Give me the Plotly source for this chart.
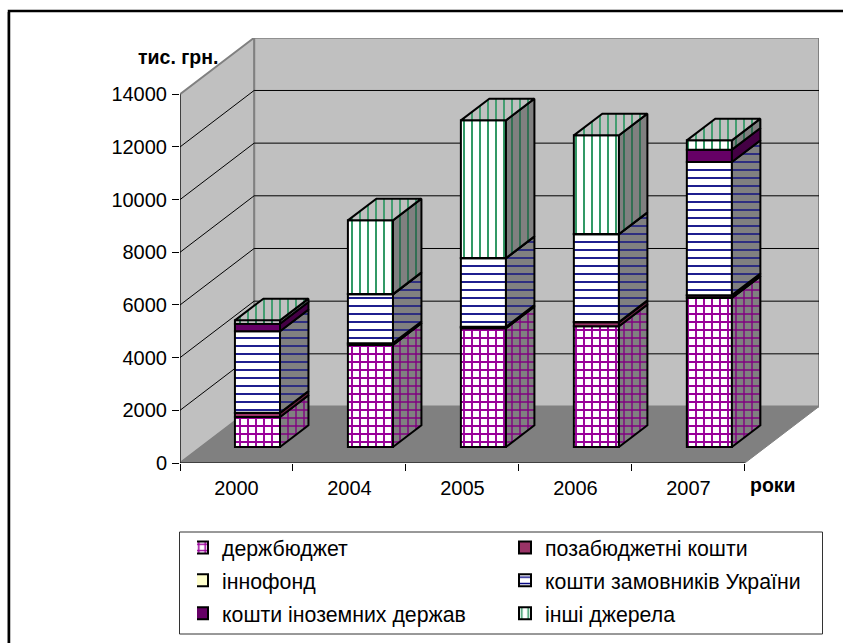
import plotly.graph_objects as go
import numpy as np

years = ["2000", "2004", "2005", "2006", "2007"]
derzh = [1139, 3873, 4507, 4583, 5657]
poza = [152, 60, 50, 151, 100]
inno = [10, 10, 10, 10, 10]
zamov = [3092, 1854, 2598, 3332, 5053]
inozem = [292, 10, 10, 10, 471]
inshi = [125, 2800, 5228, 3748, 353]
y_ticks = [0, 2000, 4000, 6000, 8000, 10000, 12000, 14000]
series_names = ["держбюджет", "позабюджетні кошти", "іннофонд",
                "кошти замовників України", "кошти іноземних держав", "інші джерела"]

W, H = 843, 643
L, R, T, B = 180, 819, 38, 463      # plot box in pixels
PX_X = 112.8                         # pixels per category
PX_Y = 368.7 / 14000                 # pixels per unit
DEPTH_X = 74 / PX_X                  # floor depth expressed in axis units
DEPTH_Y = 56.5 / PX_Y
D0, D1 = 0.283, 0.667                # front/back of the bars in depth fraction
BAR_W = 45 / PX_X


def proj(x, v, d):
    return x + d * DEPTH_X, v + d * DEPTH_Y


def poly(points):
    return " ".join(("M" if i == 0 else "L") + f"{x},{y}" for i, (x, y) in enumerate(points)) + " Z"


styles = [
    dict(bg="#ffffff", side="#808080", fg="#990099", side_fg="#800080", shape="+", size=8, sol=0.42, side_sol=0.32),
    dict(bg="#993366", side="#66223f", fg=None, shape="", size=8, sol=0.3),
    dict(bg="#ffffcc", side="#aaaa88", fg=None, shape="", size=8, sol=0.3),
    dict(bg="#ffffff", side="#808080", fg="#000080", side_fg="#000080", shape="-", size=8, sol=0.22, side_sol=0.16),
    dict(bg="#660066", side="#440044", fg=None, shape="", size=8, sol=0.3),
    dict(bg="#ffffff", side="#808080", fg="#339966", side_fg="#1f6b48", shape="|", size=8, sol=0.25, side_sol=0.2),
]
values = [derzh, poza, inno, zamov, inozem, inshi]
n = len(years)
xc = np.arange(n) + 0.5
xfront = xc + D0 * DEPTH_X
cum = np.zeros(n)

fig = go.Figure()
side_traces = []
for name, vals, st in zip(series_names, values, styles):
    vals = np.array(vals, float)
    marker = dict(color=st["bg"], line=dict(color="#000000", width=2))
    if st["shape"]:
        marker["pattern"] = dict(shape=st["shape"], size=st["size"], solidity=st["sol"], fgcolor=st["fg"],
                                 bgcolor=st["bg"], fillmode="replace")
    fig.add_bar(x=xfront, y=vals, base=cum + D0 * DEPTH_Y, width=BAR_W,
                name=f'<span style="font-size:21.3px">{name}</span>', marker=marker, hoverinfo="skip")
    sx, sy = [], []
    for i in range(n):
        right = xc[i] + BAR_W / 2
        pts = [proj(right, cum[i], D0), proj(right, cum[i], D1),
               proj(right, cum[i] + vals[i], D1), proj(right, cum[i] + vals[i], D0)]
        pts.append(pts[0])
        sx += [p[0] for p in pts] + [None]
        sy += [p[1] for p in pts] + [None]
    tr = dict(x=sx, y=sy, mode="lines", fill="toself", showlegend=False, hoverinfo="skip",
              line=dict(color="#000000", width=2), fillcolor=st["side"])
    if st["shape"]:
        tr["fillpattern"] = dict(shape=st["shape"], size=st["size"], solidity=st["side_sol"],
                                 fgcolor=st["side_fg"], bgcolor=st["side"], fillmode="replace")
    side_traces.append(tr)
    cum = cum + vals

for tr in side_traces:
    fig.add_scatter(**tr)

tx, ty = [], []
for i in range(n):
    l, r = xc[i] - BAR_W / 2, xc[i] + BAR_W / 2
    pts = [proj(l, cum[i], D0), proj(r, cum[i], D0), proj(r, cum[i], D1), proj(l, cum[i], D1)]
    pts.append(pts[0])
    tx += [p[0] for p in pts] + [None]
    ty += [p[1] for p in pts] + [None]
fig.add_scatter(x=tx, y=ty, mode="lines", fill="toself", showlegend=False, hoverinfo="skip",
                line=dict(color="#000000", width=2), fillcolor="#c0c0c0",
                fillpattern=dict(shape="|", size=8, solidity=0.22, fgcolor="#339966", bgcolor="#c0c0c0",
                                 fillmode="replace"))

shapes = []
wall_edge = dict(color="#808080", width=2)
top_v = (B - T) / PX_Y
shapes.append(dict(type="path", layer="below", xref="x", yref="y", fillcolor="#c0c0c0", line=wall_edge,
                   path=poly([proj(0, 0, 1), proj(n, 0, 1), proj(n, 14000, 1), proj(0, 14000, 1)])))
shapes.append(dict(type="path", layer="below", xref="x", yref="y", fillcolor="#c0c0c0", line=wall_edge,
                   path=poly([proj(0, 0, 0), proj(0, 0, 1), proj(0, 14000, 1), proj(0, 14000, 0)])))
shapes.append(dict(type="path", layer="below", xref="x", yref="y", fillcolor="#808080",
                   line=dict(color="#808080", width=1),
                   path=poly([proj(0, 0, 0), proj(n, 0, 0), proj(n, 0, 1), proj(0, 0, 1)])))
for v in y_ticks[1:-1]:
    a, b, c = proj(0, v, 0), proj(0, v, 1), proj(n, v, 1)
    for p, q in ((a, b), (b, c)):
        shapes.append(dict(type="line", layer="below", xref="x", yref="y", x0=p[0], y0=p[1], x1=q[0], y1=q[1],
                           line=dict(color="#000000", width=1)))
shapes.append(dict(type="line", layer="below", xref="x", yref="y", x0=0, y0=0, x1=n, y1=0,
                   line=dict(color="#404040", width=2)))
shapes.append(dict(type="line", layer="below", xref="x", yref="y", x0=0, y0=0, x1=0, y1=14000,
                   line=dict(color="#000000", width=1)))


def px(xp):
    return (xp - L) / (R - L)


def py(yp):
    return (B - yp) / (B - T)


# outer frame runs off the right and bottom edges of the picture
shapes.append(dict(type="line", xref="paper", yref="paper", x0=px(7.5), x1=px(7.5), y0=py(670), y1=py(12),
                   line=dict(color="#b0b0b0", width=1), layer="below"))
shapes.append(dict(type="rect", xref="paper", yref="paper", x0=px(9), x1=px(870), y0=py(670), y1=py(11),
                   line=dict(color="#000000", width=2.5), fillcolor="rgba(0,0,0,0)", layer="below"))
shapes.append(dict(type="rect", xref="paper", yref="paper", x0=px(179.5), x1=px(822.5), y0=py(634), y1=py(532),
                   line=dict(color="#333333", width=1), fillcolor="rgba(0,0,0,0)", layer="below"))

fig.update_layout(
    width=W, height=H, autosize=False,
    margin=dict(l=L, r=W - R, t=T, b=H - B, pad=0, autoexpand=False),
    paper_bgcolor="#ffffff", plot_bgcolor="rgba(0,0,0,0)",
    barmode="overlay", shapes=shapes,
    font=dict(family="Liberation Sans, Arial, sans-serif", size=20, color="#000000"),
    xaxis=dict(range=[0, n + DEPTH_X], tickmode="array", tickvals=list(xc), ticktext=years,
               ticks="", showgrid=False, zeroline=False, showline=False,
               ticklabelstandoff=11,
               minor=dict(tickmode="array", tickvals=list(range(n + 1)), ticks="outside", ticklen=7,
                          tickcolor="#000000", showgrid=False)),
    yaxis=dict(range=[0, top_v], tickmode="array", tickvals=y_ticks, ticktext=[str(v) for v in y_ticks],
               ticks="outside", ticklen=7, ticklabelstandoff=1,
               tickcolor="#000000", showgrid=False, zeroline=False, showline=False),
    legend=dict(orientation="h", x=px(843), xanchor="right", y=py(526), yanchor="top",
                entrywidth=293, entrywidthmode="pixels", indentation=-15,
                bgcolor="rgba(0,0,0,0)", borderwidth=0, font=dict(size=23), traceorder="normal"),
    annotations=[
        dict(text="<b>тис. грн.</b>", xref="paper", yref="paper", x=px(136), y=py(57), xanchor="left",
             yanchor="middle", showarrow=False, font=dict(size=19.5)),
        dict(text="<b>роки</b>", xref="paper", yref="paper", x=px(748), y=py(485), xanchor="left",
             yanchor="middle", showarrow=False, font=dict(size=19.5)),
    ],
)
fig.write_html("out.html", config=dict(displayModeBar=False),
               post_script="document.body.style.margin='0';document.documentElement.style.overflow='hidden';")
